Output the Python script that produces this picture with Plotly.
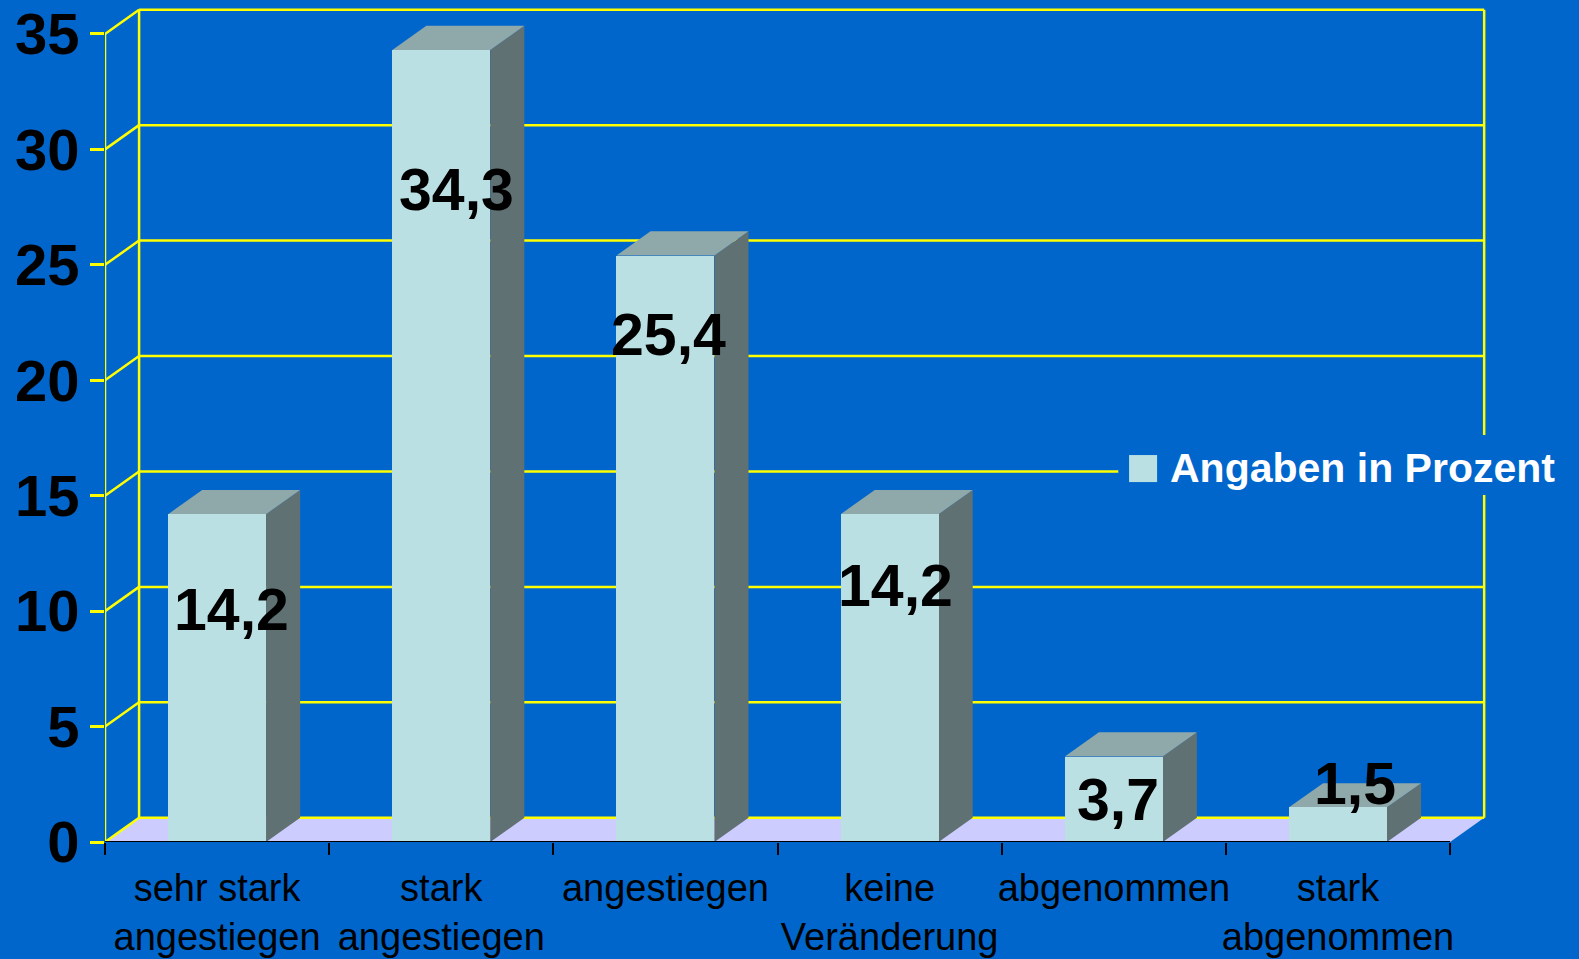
import plotly.graph_objects as go

# Daten (Angaben in Prozent)
kategorien = ["sehr stark<br>angestiegen", "stark<br>angestiegen", "angestiegen",
              "keine<br>Veränderung", "abgenommen", "stark<br>abgenommen"]
werte = [14.2, 34.3, 25.4, 14.2, 3.7, 1.5]
beschriftung = ["14,2", "34,3", "25,4", "14,2", "3,7", "1,5"]
y_ticks = [0, 5, 10, 15, 20, 25, 30, 35]

BG = "#0066CC"
GELB = "#FFFF00"
FRONT = "#BBE0E3"
OBEN = "#8FA8AA"
SEITE = "#5F7172"
BODEN = "#CCCCFF"
FONT = "Liberation Sans"

# Pseudo-3D Tiefe (in Achseneinheiten)
DX = 0.152
DY = 1.05
BREITE = 0.437
Y_MAX = 36.47
X_MAX = 6.075
LW = 2.5

# Position der Wertebeschriftungen (wie im Original, nicht mittig)
label_y = [10.03, 28.22, 21.95, 11.1, 1.8, 2.5]
label_xshift = [14, 15, 3, 6, 4, 17]

fig = go.Figure()

fig.add_trace(go.Bar(
    x=list(range(len(werte))),
    y=werte,
    width=BREITE,
    marker=dict(color=FRONT, line=dict(width=0)),
    name="Angaben in Prozent",
    showlegend=False,
    hoverinfo="skip",
))

shapes = []
# Boden
shapes.append(dict(type="path", xref="x", yref="y", layer="below",
                   path=f"M -0.5,0 L 5.5,0 L {5.5 + DX},{DY} L {-0.5 + DX},{DY} Z",
                   fillcolor=BODEN, line=dict(width=0)))
# Rückwand-Gitter und linke Wand
for t in y_ticks:
    shapes.append(dict(type="line", xref="x", yref="y", layer="below",
                       x0=-0.5 + DX, x1=5.5 + DX, y0=t + DY, y1=t + DY,
                       line=dict(color=GELB, width=LW)))
    shapes.append(dict(type="line", xref="x", yref="y", layer="below",
                       x0=-0.5, x1=-0.5 + DX, y0=t, y1=t + DY,
                       line=dict(color=GELB, width=LW)))
for xx in [-0.5, -0.5 + DX, 5.5 + DX]:
    off = DY if xx != -0.5 else 0
    shapes.append(dict(type="line", xref="x", yref="y", layer="below",
                       x0=xx, x1=xx, y0=off, y1=35 + off,
                       line=dict(color=GELB, width=LW)))

# Legendenhintergrund verdeckt das Gitter
shapes.append(dict(type="rect", xref="x", yref="y", layer="below",
                   x0=4.02, x1=6.06, y0=15.03, y1=17.63,
                   fillcolor=BG, line=dict(width=0)))

# Quader-Seiten und -Deckel
for i, v in enumerate(werte):
    x0 = i - BREITE / 2
    x1 = i + BREITE / 2
    shapes.append(dict(type="path", xref="x", yref="y", layer="below",
                       path=f"M {x1},0 L {x1 + DX},{DY} L {x1 + DX},{v + DY} L {x1},{v} Z",
                       fillcolor=SEITE, line=dict(width=0)))
    shapes.append(dict(type="path", xref="x", yref="y", layer="below",
                       path=f"M {x0},{v} L {x1},{v} L {x1 + DX},{v + DY} L {x0 + DX},{v + DY} Z",
                       fillcolor=OBEN, line=dict(width=0)))

# x-Achsenlinie
shapes.append(dict(type="line", xref="x", yref="y", layer="above",
                   x0=-0.5, x1=5.5, y0=0, y1=0, line=dict(color="black", width=2)))

# Legendensymbol
shapes.append(dict(type="rect", xref="x", yref="y", layer="above",
                   x0=4.068, x1=4.193, y0=15.59, y1=16.76,
                   fillcolor=FRONT, line=dict(width=0)))

annotations = []
for i, txt in enumerate(beschriftung):
    annotations.append(dict(x=i, y=label_y[i], xref="x", yref="y", text=txt,
                            showarrow=False, xanchor="center", yanchor="middle",
                            xshift=label_xshift[i],
                            font=dict(family=FONT, size=59, color="black", weight="bold")))
annotations.append(dict(x=4.24, y=16.2, xref="x", yref="y", text="Angaben in Prozent",
                        showarrow=False, xanchor="left", yanchor="middle",
                        font=dict(family=FONT, size=41, color="white", weight="bold")))

fig.update_layout(
    width=1579,
    height=959,
    margin=dict(l=105, r=0, t=0, b=117),
    paper_bgcolor=BG,
    plot_bgcolor=BG,
    shapes=shapes,
    annotations=annotations,
    bargap=0,
    xaxis=dict(
        range=[-0.5, X_MAX],
        tickvals=list(range(len(kategorien))),
        ticktext=kategorien,
        tickangle=0,
        automargin=False,
        showgrid=False,
        zeroline=False,
        showline=False,
        ticks="",
        ticklabelstandoff=20,
        tickfont=dict(family=FONT, size=38, color="black"),
        minor=dict(tick0=-0.5, dtick=1, ticks="outside", ticklen=12,
                   tickcolor="black", tickwidth=2, showgrid=False),
    ),
    yaxis=dict(
        range=[0, Y_MAX],
        tickvals=y_ticks,
        automargin=False,
        showgrid=False,
        zeroline=False,
        showline=False,
        ticks="outside",
        ticklen=14,
        tickwidth=LW,
        tickcolor=GELB,
        ticklabelstandoff=-1,
        ticklabeloverflow="allow",
        tickfont=dict(family=FONT, size=58, color="black", weight="bold"),
    ),
)

fig.write_html("out.html", config={"displayModeBar": False},
               post_script="document.body.style.margin='0';")
